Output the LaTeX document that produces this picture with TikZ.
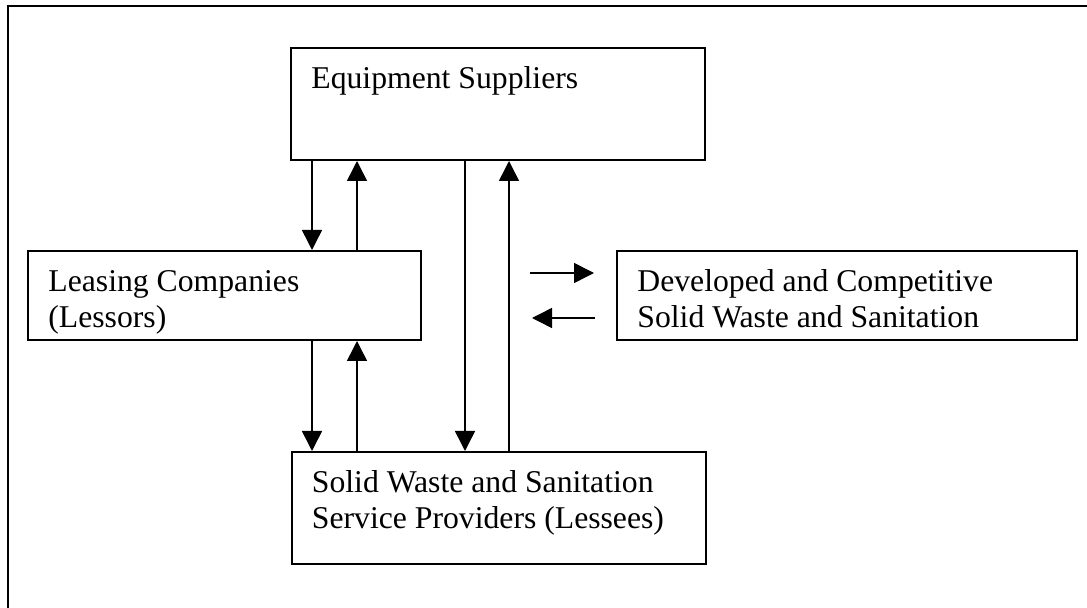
\documentclass[tikz,border=0pt]{standalone}
\usepackage{fontspec}
\setmainfont{Liberation Serif}
\usetikzlibrary{arrows.meta,calc}
\tikzset{
  box/.style={draw, line width=1pt, minimum width=207pt, minimum height=56pt, inner sep=0pt},
  txt/.style={anchor=north west, inner sep=0pt, align=left, font=\fontsize{15.85pt}{18pt}\selectfont},
  flow/.style={-{Triangle[length=10pt,width=10pt]}, line width=0.75pt},
}
\begin{document}
\begin{tikzpicture}[x=0.5pt,y=-0.5pt]
        \useasboundingbox (0,0) rectangle (1087,608);
        \draw[line width=1pt] (8,608) -- (8,6) -- (1087,6);

            \node[box] (es) at (498,104) {};
            \node[box, minimum width=196.5pt, minimum height=44.5pt] (lease) at (224.5,295.5) {};
            \node[box, minimum width=230pt, minimum height=44.5pt] (dev) at (847,295.5) {};
            \node[box] (sw) at (498.5,508) {};

            \node[txt] (esT) at ($(es.north west)+(21,16)$) {\strut Equipment Suppliers};
            \node[txt] (leaseT) at ($(lease.north west)+(21,16)$) {\strut Leasing Companies\\(Lessors)};
            \node[txt] (devT) at ($(dev.north west)+(21,16)$) {\strut Developed and Competitive\\Solid Waste and Sanitation};
            \node[txt] (swT) at ($(sw.north west)+(21,16)$) {\strut Solid Waste and Sanitation\\Service Providers (Lessees)};

            % columns of the vertical links
            \coordinate (c1) at (312,0);
            \coordinate (c2) at (357,0);
            \coordinate (c3) at (465,0);
            \coordinate (c4) at (509,0);

            \foreach \col/\a/\b in {c1/es.south/lease.north, c2/lease.north/es.south,
                                    c1/lease.south/sw.north, c2/sw.north/lease.south,
                                    c3/es.south/sw.north, c4/sw.north/es.south}{
              \draw[flow] (\col |- \a) -- (\col |- \b);
            }

            \coordinate (toR) at (530,273);
            \coordinate (toL) at (532,318);
            \draw[flow, shorten >=11pt] (toR) -- (toR -| dev.west);
            \draw[flow, shorten <=10.5pt] (toL -| dev.west) -- (toL);
        \end{tikzpicture}
\end{document}
